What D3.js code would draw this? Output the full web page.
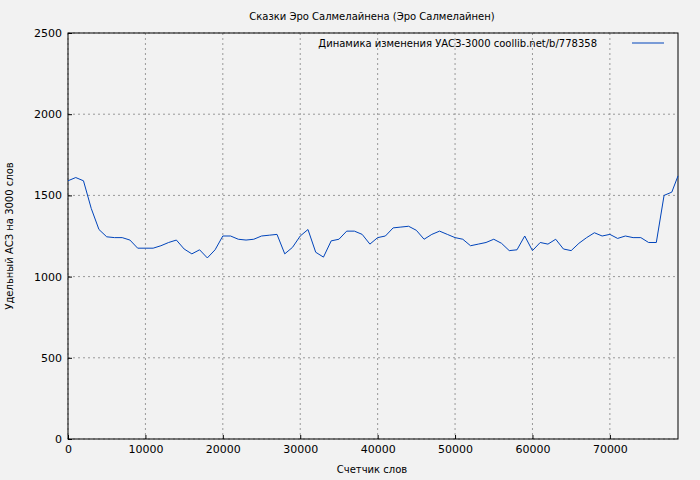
<!DOCTYPE html><html><head><meta charset="utf-8"><script src="https://cdn.jsdelivr.net/npm/d3@7"></script>
<style>body{margin:0;background:#f2f2f2}text{font-family:"DejaVu Sans",sans-serif;font-size:10px;fill:#000}</style></head><body><svg id="c" width="700" height="480"></svg><script>
const xs=[0,1000,2000,3000,4000,5000,6000,7000,8000,9000,10000,11000,12000,13000,14000,15000,16000,17000,18000,19000,20000,21000,22000,23000,24000,25000,26000,27000,28000,29000,30000,31000,32000,33000,34000,35000,36000,37000,38000,39000,40000,41000,42000,43000,44000,45000,46000,47000,48000,49000,50000,51000,52000,53000,54000,55000,56000,57000,58000,59000,60000,61000,62000,63000,64000,65000,66000,67000,68000,69000,70000,71000,72000,73000,74000,75000,76000,77000,78000,78800];
const ys=[1590,1610,1590,1420,1290,1245,1240,1240,1225,1175,1175,1175,1190,1210,1225,1170,1140,1165,1115,1165,1250,1250,1230,1225,1230,1250,1255,1260,1140,1180,1250,1290,1150,1120,1220,1230,1280,1280,1260,1200,1240,1250,1300,1305,1310,1285,1230,1260,1280,1260,1240,1230,1190,1200,1210,1230,1205,1160,1165,1250,1160,1210,1200,1230,1170,1160,1205,1240,1270,1250,1260,1235,1250,1240,1240,1210,1210,1500,1520,1620];
const xTicks=[0,10000,20000,30000,40000,50000,60000,70000];
const yTicks=[0,500,1000,1500,2000,2500];
const title="Сказки Эро Салмелайнена (Эро Салмелайнен)";
const legend="Динамика изменения УАСЗ-3000 coollib.net/b/778358";
const svg=d3.select("#c");
const x=d3.scaleLinear().domain([0,78800]).range([68,678]);
const y=d3.scaleLinear().domain([0,2500]).range([439,33]);
const g=svg.append("g");
xTicks.forEach(t=>g.append("line").attr("x1",x(t)).attr("x2",x(t)).attr("y1",33).attr("y2",439).attr("stroke","#999").attr("stroke-dasharray","2,3"));
yTicks.forEach(t=>g.append("line").attr("x1",68).attr("x2",678).attr("y1",y(t)).attr("y2",y(t)).attr("stroke","#999").attr("stroke-dasharray","2,3"));
svg.append("g").attr("transform","translate(0,439)").call(d3.axisBottom(x).tickValues(xTicks).tickSize(-4).tickPadding(6).tickFormat(d3.format("d"))).call(a=>a.select(".domain").remove());
svg.append("g").attr("transform","translate(68,0)").call(d3.axisLeft(y).tickValues(yTicks).tickSize(-4).tickPadding(6).tickFormat(d3.format("d"))).call(a=>a.select(".domain").remove());
svg.selectAll(".tick text").style("font-size","11px").style("font-family","DejaVu Sans");
svg.append("rect").attr("x",68).attr("y",33).attr("width",610).attr("height",406).attr("fill","none").attr("stroke","#000");
svg.append("path").datum(xs.map((d,i)=>[d,ys[i]])).attr("fill","none").attr("stroke","#0044bb").attr("d",d3.line().x(d=>x(d[0])).y(d=>y(d[1])));
svg.append("text").attr("x",372).attr("y",20).attr("text-anchor","middle").text(title);
svg.append("text").attr("x",372).attr("y",473).attr("text-anchor","middle").text("Счетчик слов");
svg.append("text").attr("transform","translate(13,236) rotate(-90)").attr("text-anchor","middle").text("Удельный АСЗ на 3000 слов");
svg.append("text").attr("x",597).attr("y",47).attr("text-anchor","end").text(legend);
svg.append("line").attr("x1",632).attr("x2",664).attr("y1",43).attr("y2",43).attr("stroke","#0044bb");
</script></body></html>
